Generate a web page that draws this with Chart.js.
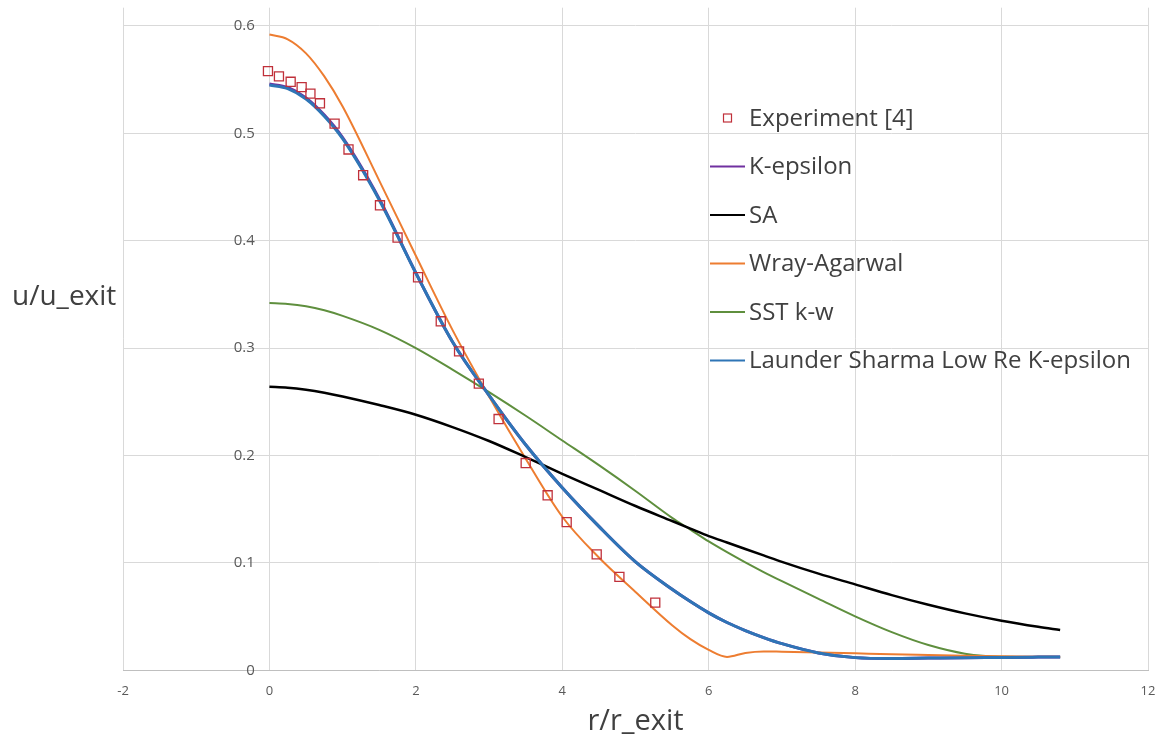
<!DOCTYPE html>
<html>
<head>
<meta charset="utf-8">
<script src="https://cdn.jsdelivr.net/npm/chart.js@4.4.1/dist/chart.umd.min.js"></script>
<style>
  html, body { margin: 0; padding: 0; background: #fff; }
  #wrap { position: relative; width: 1160px; height: 745px; }
</style>
</head>
<body>
<div id="wrap"><canvas id="jetChart"></canvas></div>
<script>
// ---- data ----
const xTicks = [-2, 0, 2, 4, 6, 8, 10, 12];
const yTicks = [0, 0.1, 0.2, 0.3, 0.4, 0.5, 0.6];

// Experiment [4] (hollow squares)
const expR = [-0.02, 0.13, 0.29, 0.44, 0.56, 0.69, 0.89, 1.08, 1.28, 1.51, 1.75, 2.03,
              2.34, 2.59, 2.86, 3.13, 3.50, 3.80, 4.06, 4.47, 4.78, 5.27];
const expU = [0.558, 0.553, 0.548, 0.543, 0.537, 0.528, 0.509, 0.485, 0.461, 0.433, 0.403, 0.366,
              0.325, 0.297, 0.267, 0.234, 0.193, 0.163, 0.138, 0.108, 0.087, 0.063];

// r/r_exit samples shared by the model curves
const rGrid = [0, 0.25, 0.5, 0.75, 1, 1.5, 2, 2.5, 3, 3.5, 4, 4.5, 5, 5.5, 5.75, 6, 6.25, 6.5,
               6.75, 7, 7.5, 8, 8.5, 9, 9.5, 10, 10.5, 10.8];

const launderSharma = [0.545, 0.5417, 0.532, 0.516, 0.495, 0.438, 0.370, 0.306, 0.256, 0.210, 0.170,
                       0.134, 0.101, 0.0755, 0.064, 0.0535, 0.0445, 0.037, 0.0305, 0.0248, 0.0162,
                       0.0118, 0.011, 0.0114, 0.0118, 0.012, 0.0123, 0.0125];
// K-epsilon lies underneath the Launder-Sharma curve
const kEpsilon = [0.546, 0.5427, 0.533, 0.517, 0.496, 0.439, 0.370, 0.306, 0.256, 0.210, 0.170,
                  0.134, 0.101, 0.0755, 0.064, 0.0535, 0.0445, 0.037, 0.0305, 0.0248, 0.0162,
                  0.0118, 0.011, 0.0114, 0.0118, 0.012, 0.0123, 0.0125];
const sa = [0.264, 0.2632, 0.2613, 0.2585, 0.255, 0.247, 0.238, 0.2265, 0.2135, 0.1985, 0.183, 0.168,
            0.153, 0.139, 0.132, 0.125, 0.119, 0.113, 0.107, 0.101, 0.090, 0.080, 0.070, 0.061,
            0.053, 0.0462, 0.0405, 0.0375];
const wrayAgarwal = [0.592, 0.5876, 0.5745, 0.553, 0.525, 0.456, 0.386, 0.317, 0.255, 0.197, 0.143,
                     0.105, 0.073, 0.042, 0.029, 0.019, 0.0125, 0.0162, 0.0176, 0.0173, 0.0166,
                     0.0158, 0.0150, 0.0143, 0.0136, 0.0131, 0.0127, 0.0125];
const sstKw = [0.342, 0.3412, 0.339, 0.3352, 0.330, 0.317, 0.300, 0.280, 0.259, 0.237, 0.214, 0.191,
               0.167, 0.142, 0.131, 0.120, 0.110, 0.1005, 0.0915, 0.083, 0.0665, 0.0502, 0.0355,
               0.0235, 0.0155, 0.0127, 0.0125, 0.0125];

const pts = (xs, ys) => xs.map((x, i) => ({ x, y: ys[i] }));

function curve(label, data, color, width, order) {
  return {
    label,
    data: pts(rGrid, data),
    showLine: true,
    borderColor: color,
    backgroundColor: color,
    borderWidth: width,
    pointRadius: 0,
    cubicInterpolationMode: 'monotone',
    order
  };
}

const datasets = [
  {
    label: 'Experiment [4]',
    data: pts(expR, expU),
    showLine: false,
    pointStyle: 'rect',
    pointRadius: 6.4,
    pointBorderWidth: 1.3,
    borderColor: '#c0303a',
    pointBackgroundColor: 'rgba(0,0,0,0)',
    order: 0
  },
  curve('K-epsilon', kEpsilon, '#7030a0', 3, 6),
  curve('SA', sa, '#000000', 2.5, 3),
  curve('Wray-Agarwal', wrayAgarwal, '#ed7d31', 2, 4),
  curve('SST k-w', sstKw, '#5f8f3e', 2, 5),
  curve('Launder Sharma Low Re K-epsilon', launderSharma, '#2e75b6', 3, 1)
];

// legend drawn inside the plot, like the spreadsheet original
const insideLegend = {
  id: 'insideLegend',
  afterDatasetsDraw(chart) {
    const { ctx } = chart;
    const lineX0 = 710, lineX1 = 745, textX = 749, y0 = 118, gap = 48.5;
    ctx.save();
    ctx.font = '24px "Open Sans", sans-serif';
    ctx.textBaseline = 'middle';
    chart.data.datasets.forEach((ds, i) => {
      const y = y0 + i * gap;
      if (ds.showLine === false) {
        ctx.strokeStyle = ds.borderColor;
        ctx.lineWidth = 1.2;
        ctx.strokeRect(723.5, y - 4, 8, 8);
      } else {
        ctx.strokeStyle = ds.borderColor;
        ctx.lineWidth = 2;
        ctx.beginPath();
        ctx.moveTo(lineX0, y);
        ctx.lineTo(lineX1, y);
        ctx.stroke();
      }
      ctx.fillStyle = '#404040';
      ctx.fillText(ds.label, textX, y + 1);
    });
    ctx.restore();
  }
};

// horizontal y-axis title at the far left
const yTitle = {
  id: 'yTitle',
  afterDraw(chart) {
    const { ctx } = chart;
    ctx.save();
    ctx.font = '28px "Open Sans", sans-serif';
    ctx.fillStyle = '#404040';
    ctx.textBaseline = 'middle';
    ctx.fillText('u/u_exit', 12, 297);
    ctx.restore();
  }
};

// keep the plot area exactly where the layout padding puts it
const noEdgePadding = scale => {
  scale.paddingTop = 0;
  scale.paddingBottom = 0;
  scale.paddingLeft = 0;
  scale.paddingRight = 0;
};

Chart.defaults.font.family = '"Open Sans", sans-serif';

new Chart(document.getElementById('jetChart'), {
  type: 'scatter',
  data: { datasets },
  options: {
    responsive: true,
    maintainAspectRatio: false,
    animation: false,
    layout: { padding: { left: 123, right: 12, top: 7, bottom: 0 } },
    plugins: {
      legend: { display: false },
      tooltip: { enabled: false }
    },
    scales: {
      x: {
        type: 'linear',
        min: -2,
        max: 12,
        afterBuildTicks: scale => { scale.ticks = xTicks.map(v => ({ value: v })); },
        afterFit: noEdgePadding,
        grid: { color: '#d9d9d9', drawTicks: false },
        border: { color: '#bfbfbf' },
        ticks: { color: '#595959', font: { size: 13 }, padding: 13 },
        title: {
          display: true,
          text: 'r/r_exit',
          color: '#404040',
          font: { size: 29, lineHeight: 0.7 },
          padding: { top: 0, bottom: 12.8 }
        }
      },
      y: {
        type: 'linear',
        // labels sit just left of r = 0, as in the original
        position: { x: -0.2 },
        min: 0,
        max: 0.617,
        afterBuildTicks: scale => { scale.ticks = yTicks.map(v => ({ value: v })); },
        afterFit: noEdgePadding,
        grid: { color: '#d9d9d9', drawTicks: false },
        border: { display: false },
        ticks: { color: '#595959', font: { size: 15 }, padding: 0 }
      }
    }
  },
  plugins: [insideLegend, yTitle]
});
</script>
</body>
</html>
